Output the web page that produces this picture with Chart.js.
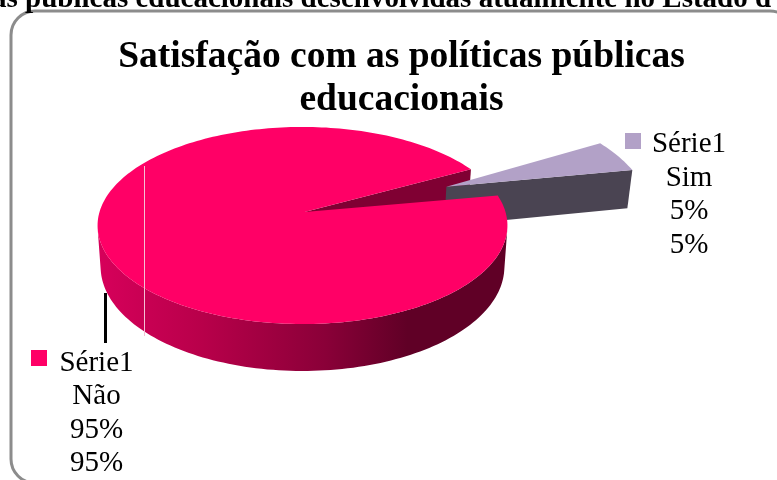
<!DOCTYPE html>
<html>
<head>
<meta charset="utf-8">
<script src="https://cdn.jsdelivr.net/npm/chart.js@4"></script>
<style>
  html, body { margin: 0; padding: 0; background: #fff; overflow: hidden; }
  canvas { display: block; }
</style>
</head>
<body>
<canvas id="pieChart" width="777" height="480"></canvas>
<script>
const titleLines = ["Satisfação com as políticas públicas", "educacionais"];
const headingText = "as públicas educacionais desenvolvidas atualmente no Estado d";
const seriesName = "Série1";
const categories = ["Sim", "Não"];
const values = [5, 95];

const topColors = ["#b2a1c7", "#ff0066"];
const cutColors = ["#4a4452", "#800033"];
const wallStops = [
  [[0, "#4a4452"], [1, "#4a4452"]],
  [[0, "#d6005a"], [0.25, "#b8004a"], [0.55, "#8a0038"], [0.75, "#600026"], [1, "#600026"]]
];

const SERIF = '"Liberation Serif", "Times New Roman", serif';

// perspective view of the pie plane, unit radius
const view = { cx: 302.5, cy: 212, sx: 201, sy: 96.7, persp: 0.137, depth: 40.5, shrink: 0.015, apexShift: 2 };
// how far each slice is pulled out, and its radius across / into the plane
const sliceShift = [[0.74, -0.27], [0, 0]];
const sliceRadius = [[1.02, 1.1], [1.01, 1.0]];

function project(p, low) {
  const [u, v] = p;
  const s = 1 / (1 - view.persp * v);
  const r = Math.min(Math.hypot(u, v), 1);
  let x = view.cx + view.sx * u * s + view.apexShift * (1 - r);
  let y = view.cy + view.sy * v * s;
  if (low) {
    x = view.cx + (x - view.cx) * (1 - view.shrink);
    y += view.depth * s;
  }
  return [x, y];
}

function poly(ctx, pts, fill) {
  ctx.beginPath();
  pts.forEach((p, i) => i ? ctx.lineTo(p[0], p[1]) : ctx.moveTo(p[0], p[1]));
  ctx.closePath();
  ctx.fillStyle = fill;
  ctx.fill();
}

function area(pts) {
  let a = 0;
  pts.forEach((p, i) => {
    const q = pts[(i + 1) % pts.length];
    a += p[0] * q[1] - q[0] * p[1];
  });
  return a;
}

function wallQuad(a, b) {
  return [project(a), project(b), project(b, true), project(a, true)];
}

// outline of a slice in plane coordinates, from the angles the controller computed
function sliceRim(arc, i) {
  const n = Math.ceil((arc.endAngle - arc.startAngle) * 40);
  const rim = [];
  for (let k = 0; k <= n; k++) {
    const a = arc.startAngle + (arc.endAngle - arc.startAngle) * k / n;
    rim.push([sliceShift[i][0] + sliceRadius[i][0] * Math.cos(a), sliceShift[i][1] + sliceRadius[i][1] * Math.sin(a)]);
  }
  return rim;
}

// flat faces running out from the slice tip
function drawCuts(ctx, arc, i) {
  const rim = sliceRim(arc, i);
  const tip = sliceShift[i];
  [[rim[0], tip], [tip, rim[rim.length - 1]]].forEach(([a, b]) => {
    const q = wallQuad(a, b);
    if (area(q) > 0) poly(ctx, q, cutColors[i]);
  });
}

// curved wall as one shape so no seams show, then the top face
function drawBody(ctx, arc, i) {
  const rim = sliceRim(arc, i);
  const wall = ctx.createLinearGradient(100, 0, 510, 0);
  wallStops[i].forEach(s => wall.addColorStop(s[0], s[1]));
  const front = [];
  for (let k = 0; k < rim.length - 1; k++) {
    if (area(wallQuad(rim[k], rim[k + 1])) < 0) {
      if (!front.length) front.push(rim[k]);
      front.push(rim[k + 1]);
    }
  }
  if (front.length) {
    const upper = front.map(p => project(p));
    const lower = front.map(p => project(p, true)).reverse();
    poly(ctx, upper.concat(lower), wall);
  }
  poly(ctx, [project(sliceShift[i])].concat(rim.map(p => project(p))), topColors[i]);
}

function drawLabel(ctx, i, keyX, keyY, textX, baseY) {
  ctx.fillStyle = topColors[i];
  ctx.fillRect(keyX, keyY, 16, 16);
  const pct = values[i] + "%";
  const lines = [seriesName, categories[i], pct, pct];
  ctx.fillStyle = "#000";
  ctx.font = "29px " + SERIF;
  ctx.textAlign = "center";
  ctx.textBaseline = "alphabetic";
  lines.forEach((t, k) => ctx.fillText(t, textX, baseY + k * 33.5));
}

const pie3d = {
  id: "pie3d",
  beforeDraw(chart) {
    const ctx = chart.ctx;
    ctx.save();
    ctx.fillStyle = "#fff";
    ctx.fillRect(0, 0, chart.width, chart.height);
    // chart frame, runs off the right and bottom of the page
    ctx.beginPath();
    ctx.roundRect(11, 11, 783, 472, 24);
    ctx.strokeStyle = "#8c8c8c";
    ctx.lineWidth = 3;
    ctx.stroke();
    ctx.fillStyle = "#000";
    ctx.font = "bold 29px " + SERIF;
    ctx.textAlign = "left";
    ctx.textBaseline = "alphabetic";
    ctx.fillText(headingText, -8, 7);
    ctx.restore();
  },
  beforeDatasetsDraw(chart) {
    const ctx = chart.ctx;
    const arcs = chart.getDatasetMeta(0).data;
    ctx.save();
    // Não's cut face sits behind the pulled out slice, its top face in front
    [1, 0].forEach(i => drawCuts(ctx, arcs[i], i));
    [0, 1].forEach(i => drawBody(ctx, arcs[i], i));
    ctx.fillStyle = "#f4c0d4";
    ctx.fillRect(144, 166, 1, 170);
    ctx.restore();
    return false;
  },
  afterDraw(chart) {
    const ctx = chart.ctx;
    ctx.save();
    ctx.fillStyle = "#000";
    ctx.fillRect(104, 293, 3, 50);
    drawLabel(ctx, 0, 625, 133, 689, 152);
    drawLabel(ctx, 1, 31, 350, 96.5, 370.5);
    ctx.restore();
  }
};

new Chart(document.getElementById("pieChart"), {
  type: "pie",
  data: {
    labels: categories,
    datasets: [{ label: seriesName, data: values, backgroundColor: topColors }]
  },
  options: {
    responsive: false,
    animation: false,
    rotation: 62,
    events: [],
    layout: { padding: { left: 26, top: 36 } },
    plugins: {
      legend: { display: false },
      tooltip: { enabled: false },
      title: {
        display: true,
        text: titleLines,
        color: "#000",
        font: { family: SERIF, size: 37.5, weight: "bold", lineHeight: 1.14 },
        padding: 0
      }
    }
  },
  plugins: [pie3d]
});
</script>
</body>
</html>
